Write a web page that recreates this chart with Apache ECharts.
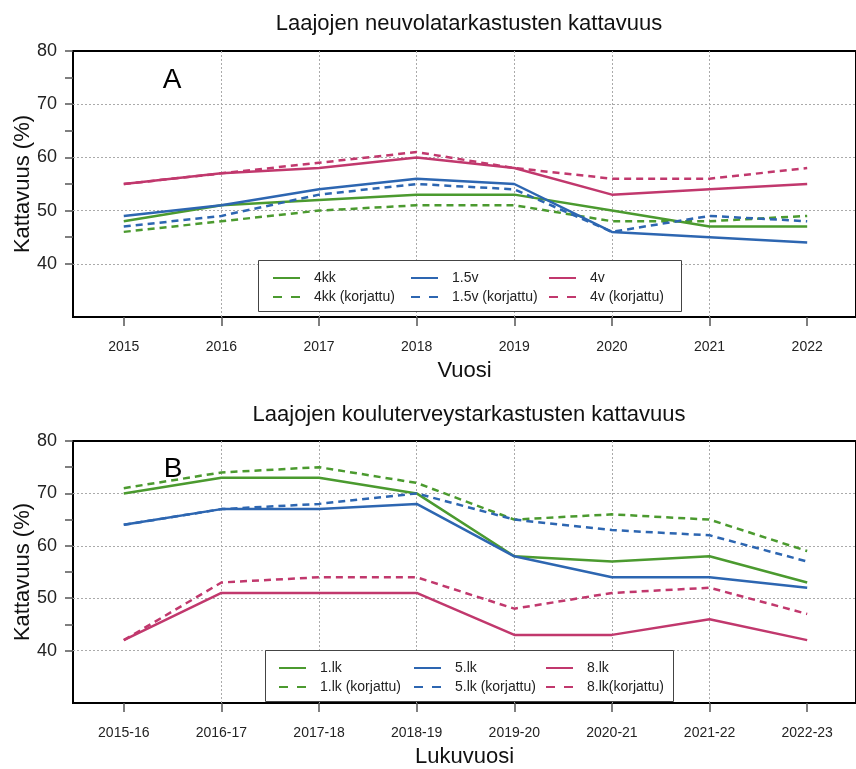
<!DOCTYPE html>
<html>
<head>
<meta charset="utf-8">
<script src="https://cdn.jsdelivr.net/npm/echarts@6/dist/echarts.min.js"></script>
<style>
html,body{margin:0;padding:0;background:#fff;}
#chart{width:856px;height:769px;}
</style>
</head>
<body>
<div id="chart"></div>
<script>
// ---- Data ----
const yearsA = ['2015','2016','2017','2018','2019','2020','2021','2022'];
const yearsB = ['2015-16','2016-17','2017-18','2018-19','2019-20','2020-21','2021-22','2022-23'];
const yTickLabels = [40, 50, 60, 70, 80];
const yMinorTicks = [40, 45, 50, 55, 60, 65, 70, 75, 80];

// Panel A
const a4kk   = [48, 51, 52, 53, 53, 50, 47, 47];
const a4kkK  = [46, 48, 50, 51, 51, 48, 48, 49];
const a15v   = [49, 51, 54, 56, 55, 46, 45, 44];
const a15vK  = [47, 49, 53, 55, 54, 46, 49, 48];
const a4v    = [55, 57, 58, 60, 58, 53, 54, 55];
const a4vK   = [55, 57, 59, 61, 58, 56, 56, 58];

// Panel B
const b1lk   = [70, 73, 73, 70, 58, 57, 58, 53];
const b1lkK  = [71, 74, 75, 72, 65, 66, 65, 59];
const b5lk   = [64, 67, 67, 68, 58, 54, 54, 52];
const b5lkK  = [64, 67, 68, 70, 65, 63, 62, 57];
const b8lk   = [42, 51, 51, 51, 43, 43, 46, 42];
const b8lkK  = [42, 53, 54, 54, 48, 51, 52, 47];

// ---- Styles ----
const GREEN = '#4B9A2F';
const BLUE = '#2D66B1';
const PINK = '#C1386D';
const FONT = 'Liberation Sans';
const DASH = [7, 5];

const idx = yearsA.map((_, i) => i);
const pairs = arr => arr.map((v, i) => [i, v]);

function mkSeries(name, data, color, dashed, gi) {
  return {
    type: 'line', name: name, data: pairs(data),
    xAxisIndex: gi, yAxisIndex: gi * 2,
    symbol: 'none', smooth: false,
    lineStyle: { color: color, width: 2.5, type: dashed ? DASH : 'solid' },
    itemStyle: { color: color },
    emphasis: { disabled: true }, z: 3
  };
}

const gridBase = { show: true, borderColor: '#000', borderWidth: 2, backgroundColor: 'rgba(0,0,0,0)' };
const grids = [
  Object.assign({ left: 73, top: 51, width: 787, height: 266 }, gridBase),
  Object.assign({ left: 73, top: 441, width: 787, height: 266 }, gridBase)
];

function mkX(gi, labels, name) {
  return {
    type: 'value', gridIndex: gi, min: -0.52, max: 7.5,
    axisLine: { show: false, onZero: false },
    axisTick: { show: true, customValues: idx, length: 9, lineStyle: { color: '#555', width: 1.5 } },
    axisLabel: { customValues: idx, formatter: v => labels[Math.round(v)], fontFamily: FONT, fontSize: 14, color: '#222', margin: 23 },
    splitLine: { show: true, showMinLine: false, showMaxLine: false, lineStyle: { color: '#aaa', type: [2, 2], width: 1 } },
    name: name, nameLocation: 'middle', nameGap: 43, nameMoveOverlap: false,
    nameTextStyle: { fontFamily: FONT, fontSize: 22, color: '#111' }
  };
}
function mkYMain(gi) {
  return {
    type: 'value', gridIndex: gi, min: 30, max: 80, interval: 10,
    axisLine: { show: false, onZero: false },
    axisTick: { show: false },
    axisLabel: { customValues: yTickLabels, fontFamily: FONT, fontSize: 18, color: '#222', margin: 16 },
    splitLine: { show: true, showMinLine: false, showMaxLine: false, lineStyle: { color: '#aaa', type: [2, 2], width: 1 } },
    name: 'Kattavuus (%)', nameLocation: 'middle', nameGap: 39, nameMoveOverlap: false,
    nameTextStyle: { fontFamily: FONT, fontSize: 22, color: '#111' }
  };
}
function mkYTicks(gi) {
  return {
    type: 'value', gridIndex: gi, min: 30, max: 80, position: 'left',
    axisLine: { show: false, onZero: false },
    axisTick: { show: true, customValues: yMinorTicks, length: 8, lineStyle: { color: '#555', width: 1.5 } },
    axisLabel: { show: false },
    splitLine: { show: false }
  };
}

function mkLegend(left, top, names) {
  return {
    orient: 'vertical', left: left, top: top, padding: 0,
    itemWidth: 27, itemHeight: 14, itemGap: 5, z: 10,
    selectedMode: false,
    itemStyle: { color: 'rgba(0,0,0,0)', borderColor: 'rgba(0,0,0,0)', borderWidth: 0, opacity: 0 },
    data: [
      { name: names[0] },
      { name: names[1], lineStyle: { type: [9, 9] } }
    ],
    textStyle: { fontFamily: FONT, fontSize: 14, color: '#222', padding: [0, 0, 0, 9] }
  };
}

const option = {
  animation: false,
  backgroundColor: '#fff',
  title: [
    { text: 'Laajojen neuvolatarkastusten kattavuus', left: 464, top: 8, textAlign: 'center',
      textStyle: { fontFamily: FONT, fontSize: 22, fontWeight: 'normal', color: '#111' } },
    { text: 'Laajojen kouluterveystarkastusten kattavuus', left: 464, top: 399, textAlign: 'center',
      textStyle: { fontFamily: FONT, fontSize: 22, fontWeight: 'normal', color: '#111' } }
  ],
  grid: grids,
  xAxis: [mkX(0, yearsA, 'Vuosi'), mkX(1, yearsB, 'Lukuvuosi')],
  yAxis: [mkYMain(0), mkYTicks(0), mkYMain(1), mkYTicks(1)],
  legend: [
    mkLegend(272, 271, ['4kk', '4kk (korjattu)']),
    mkLegend(410, 271, ['1.5v', '1.5v (korjattu)']),
    mkLegend(548, 271, ['4v', '4v (korjattu)']),
    mkLegend(278, 661, ['1.lk', '1.lk (korjattu)']),
    mkLegend(413, 661, ['5.lk', '5.lk (korjattu)']),
    mkLegend(545, 661, ['8.lk', '8.lk(korjattu)'])
  ],
  graphic: [
    { type: 'rect', shape: { x: 258.5, y: 260.5, width: 423, height: 51 }, style: { fill: '#fff', stroke: '#444', lineWidth: 1 }, z: 5 },
    { type: 'rect', shape: { x: 265.5, y: 650.5, width: 408, height: 51 }, style: { fill: '#fff', stroke: '#444', lineWidth: 1 }, z: 5 },
    { type: 'text', x: 172, y: 80, style: { text: 'A', fontFamily: FONT, fontSize: 28, fill: '#000', align: 'center', verticalAlign: 'middle' }, z: 6 },
    { type: 'text', x: 173, y: 469, style: { text: 'B', fontFamily: FONT, fontSize: 28, fill: '#000', align: 'center', verticalAlign: 'middle' }, z: 6 }
  ],
  series: [
    mkSeries('4kk', a4kk, GREEN, false, 0),
    mkSeries('4kk (korjattu)', a4kkK, GREEN, true, 0),
    mkSeries('1.5v', a15v, BLUE, false, 0),
    mkSeries('1.5v (korjattu)', a15vK, BLUE, true, 0),
    mkSeries('4v', a4v, PINK, false, 0),
    mkSeries('4v (korjattu)', a4vK, PINK, true, 0),
    mkSeries('1.lk', b1lk, GREEN, false, 1),
    mkSeries('1.lk (korjattu)', b1lkK, GREEN, true, 1),
    mkSeries('5.lk', b5lk, BLUE, false, 1),
    mkSeries('5.lk (korjattu)', b5lkK, BLUE, true, 1),
    mkSeries('8.lk', b8lk, PINK, false, 1),
    mkSeries('8.lk(korjattu)', b8lkK, PINK, true, 1)
  ]
};

const chart = echarts.init(document.getElementById('chart'), null, { renderer: 'canvas' });
chart.setOption(option);
</script>
</body>
</html>
